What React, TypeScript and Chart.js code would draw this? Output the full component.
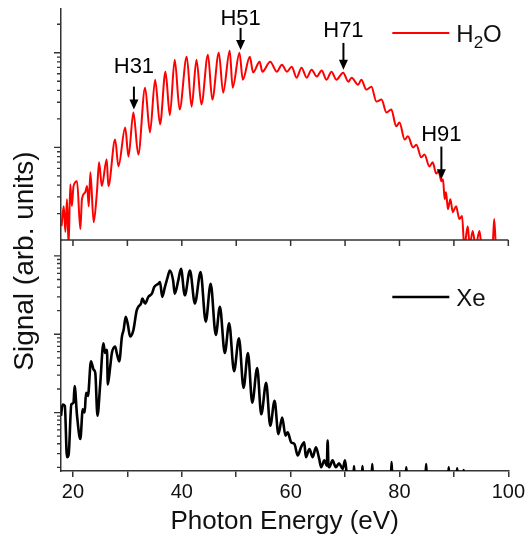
import React, { useEffect, useRef } from 'react';
import { Chart, registerables } from 'chart.js';

Chart.register(...registerables);

// ---------- axis ranges and ticks ----------
const X_MIN = 17.8;
const X_MAX = 100;
const X_TICKS = [20, 30, 40, 50, 60, 70, 80, 90, 100];
const X_LABELED = [20, 40, 60, 80, 100];
const H2O_RANGE = [1.05, 290];
const XE_RANGE = [1.79, 1594];

// ---------- series: [photon energy (eV), signal (arb. units)] ----------
const H2O_SPECTRUM: [number, number][] = [
  [17.9, 1.47], [18.3, 2.39], [18.6, 1.28], [18.9, 2.84], [19.2, 0.9], [19.5, 4.08],
  [19.8, 2.39], [20.1, 3.9], [20.75, 4.39], [21.35, 1.37], [21.65, 2.84], [22.25, 3.36],
  [22.6, 3.9], [22.9, 2.39], [23.2, 5.46], [23.8, 1.62], [24.4, 3.36], [24.8, 6.95],
  [25.3, 3.9], [26.2, 7.5], [26.5, 3.9], [27.75, 12.1], [28.35, 6.3], [29.6, 16.2],
  [30.2, 8.0], [31.1, 23.4], [32.0, 8.4], [33.25, 42.8], [34.15, 14.4], [35.1, 52],
  [36.0, 17.5], [37.0, 63.1], [37.8, 21.9], [38.7, 84.4], [39.6, 25.1], [40.9, 90.7],
  [41.8, 26.9], [42.7, 84.4], [43.6, 28.4], [44.8, 95.3], [45.6, 32], [46.8, 100],
  [47.6, 37.9], [48.8, 105], [49.35, 42.8], [50.6, 100], [51.2, 52], [52.5, 90.7],
  [53.1, 62], [54.3, 80.4], [54.8, 63.1], [56.25, 80.4], [57.45, 63.1], [58.4, 74.8],
  [59.3, 63.1], [60.2, 71.2], [61.1, 54.6], [62.0, 69.5], [62.95, 54.6], [63.85, 66.2],
  [64.8, 56], [65.7, 65], [66.6, 52], [67.5, 63.1], [68.4, 52], [69.65, 61.6],
  [70.6, 49.5], [71.2, 54.6], [72.4, 46], [73.0, 52], [73.9, 40.8], [74.85, 43.8],
  [75.75, 30.5], [76.7, 32], [77.6, 23.4], [78.5, 25.1], [79.4, 16.7], [80.0, 18.3],
  [80.95, 12.1], [81.55, 13.1], [82.5, 10], [83.1, 10.7], [84.0, 7.85], [84.6, 8.4],
  [85.5, 6.3], [86.1, 6.95], [86.75, 5.3], [87.2, 5.6], [87.7, 4.4], [88.0, 4.6],
  [88.3, 2.84], [88.55, 3.36], [88.9, 2.22], [89.35, 2.84], [89.8, 2.07], [90.4, 2.39],
  [91.0, 1.75], [91.5, 1.88], [91.9, 0.9], [92.55, 1.47], [92.9, 0.9], [93.45, 1.31],
  [94.0, 0.9], [94.7, 1.31], [95.1, 0.9], [97.1, 0.9], [97.4, 1.75], [97.7, 0.9],
];

const XE_SPECTRUM: [number, number][] = [
  [17.8, 9.1], [18.1, 12.7], [18.5, 12.2], [18.9, 2.69], [19.2, 2.9], [19.7, 12.7],
  [20.1, 13.4], [20.3, 21.8], [20.75, 9.1], [21.35, 4.59], [21.8, 11.0], [22.15, 10],
  [22.4, 17.9], [22.75, 16.3], [23.3, 45.1], [23.8, 35.3], [24.1, 32.1], [24.5, 9.1],
  [25.0, 22.8], [25.6, 76.9], [25.9, 57.5], [26.25, 63.3], [26.4, 22.8], [26.85, 39],
  [27.15, 57.5], [27.75, 69.8], [28.05, 57.5], [28.5, 45.1], [29.0, 93.5], [29.3, 113],
  [29.7, 167], [30.1, 131], [30.5, 93.5], [31.1, 113], [31.7, 200], [32.0, 224],
  [32.5, 247], [32.75, 286], [33.25, 247], [33.85, 300], [34.5, 330], [34.95, 402],
  [35.7, 442], [36.0, 464], [36.4, 300], [36.9, 402], [37.4, 537], [37.8, 652],
  [38.4, 487], [38.7, 330], [39.35, 487], [39.85, 684], [40.55, 314], [41.5, 652],
  [42.4, 247], [43.45, 622], [44.4, 145], [45.3, 442], [46.25, 98], [47.0, 224],
  [47.9, 57.5], [48.7, 138], [49.6, 33.7], [50.5, 89], [51.35, 20.7], [52.15, 57.5],
  [52.95, 13.4], [53.85, 37.1], [54.6, 9.5], [55.5, 24], [56.25, 6.8], [57.05, 14.1],
  [57.75, 5.31], [58.45, 8.65], [59.05, 5.07], [59.45, 5.58], [60.1, 4.17], [60.7, 3.97],
  [61.3, 2.83], [61.9, 3.6], [62.5, 4.17], [62.8, 2.69], [63.45, 3.43], [64.05, 2.69],
  [64.65, 3.6], [65.25, 2.56], [65.6, 2.01], [66.2, 2.45], [66.65, 2.1], [66.8, 4.38],
  [66.95, 2.1], [67.1, 2.01], [67.7, 2.45], [68.3, 2.01], [68.9, 2.25], [69.55, 1.91],
  [70.0, 2.45], [70.45, 1.4], [71.5, 1.4], [71.65, 2.07], [71.8, 1.4], [73.05, 1.4],
  [73.2, 2.07], [73.35, 1.4], [74.85, 1.4], [75.0, 2.2], [75.15, 1.4], [78.4, 1.4],
  [78.55, 2.33], [78.7, 1.4], [81.1, 1.4], [81.25, 2.0], [81.4, 1.4], [84.75, 1.4],
  [84.9, 2.2], [85.05, 1.4], [88.9, 1.4], [89.05, 2.0], [89.2, 1.4], [90.45, 1.4],
  [90.6, 1.95], [90.75, 1.4], [91.65, 1.4], [91.8, 1.85], [91.95, 1.4],
];

// ---------- harmonic annotations (top panel) ----------
const HARMONIC_LABELS = ['H31', 'H51', 'H71', 'H91'];
const HARMONIC_ENERGY = [31.2, 50.8, 69.7, 87.7];
const HARMONIC_LABEL_SIGNAL = [61.6, 197, 147, 11.6];
const HARMONIC_ARROW_TAIL = [43.9, 183, 127, 10.2];
const HARMONIC_ARROW_TIP = [25.1, 107, 66.2, 4.6];

const SERIES_NAMES = ['H2O', 'Xe'];
const Y_TITLE = 'Signal (arb. units)';
const X_TITLE = 'Photon Energy (eV)';

const FONT = '"Liberation Sans", Arial, Helvetica, sans-serif';
const AXIS_COLOR = '#333333';
const TEXT_COLOR = '#111111';
const RED = '#ff0000';

export default function App() {
  const canvasRef = useRef<HTMLCanvasElement>(null);

  useEffect(() => {
    const canvas = canvasRef.current;
    if (!canvas) return;

    const panelClip = {
      id: 'panelClip',
      beforeDatasetDraw(chart: any, args: any) {
        const ys = chart.scales[args.meta.yAxisID];
        const ca = chart.chartArea;
        const ctx = chart.ctx;
        ctx.save();
        ctx.beginPath();
        ctx.rect(ca.left, ys.top, ca.right - ca.left, ys.bottom - ys.top);
        ctx.clip();
      },
      afterDatasetDraw(chart: any) {
        chart.ctx.restore();
      },
    };

    const decorations = {
      id: 'decorations',
      afterDraw(chart: any) {
        const ctx = chart.ctx as CanvasRenderingContext2D;
        const ca = chart.chartArea;
        const xs = chart.scales.x;
        const yTop = chart.scales.yH2O;
        const yBot = chart.scales.yXe;
        ctx.save();

        // log minor/major ticks on the left axes
        ctx.strokeStyle = AXIS_COLOR;
        ctx.lineWidth = 1.3;
        ctx.beginPath();
        for (const s of [yTop, yBot]) {
          const lo = Math.floor(Math.log10(s.min));
          const hi = Math.ceil(Math.log10(s.max));
          for (let d = lo; d <= hi; d++) {
            for (let m = 1; m <= 9; m++) {
              const v = m * Math.pow(10, d);
              if (v < s.min || v > s.max) continue;
              const y = s.getPixelForValue(v);
              const len = m === 1 ? 7 : 4;
              ctx.moveTo(ca.left - len, y);
              ctx.lineTo(ca.left, y);
            }
          }
        }
        ctx.stroke();

        // separator: top panel's energy axis
        const sepY = yTop.bottom;
        ctx.lineWidth = 1.5;
        ctx.beginPath();
        ctx.moveTo(ca.left, sepY);
        ctx.lineTo(ca.right, sepY);
        for (const t of X_TICKS) {
          const x = xs.getPixelForValue(t);
          ctx.moveTo(x, sepY);
          ctx.lineTo(x, sepY + 6);
        }
        ctx.stroke();

        // harmonic arrows + labels
        ctx.fillStyle = '#000';
        ctx.strokeStyle = '#000';
        ctx.font = `22px ${FONT}`;
        ctx.textAlign = 'center';
        ctx.textBaseline = 'alphabetic';
        HARMONIC_LABELS.forEach((lab, i) => {
          const x = xs.getPixelForValue(HARMONIC_ENERGY[i]);
          const yl = yTop.getPixelForValue(HARMONIC_LABEL_SIGNAL[i]);
          const yt = yTop.getPixelForValue(HARMONIC_ARROW_TAIL[i]);
          const yp = yTop.getPixelForValue(HARMONIC_ARROW_TIP[i]);
          ctx.fillText(lab, x, yl);
          ctx.lineWidth = 2;
          ctx.beginPath();
          ctx.moveTo(x, yt);
          ctx.lineTo(x, yp - 9);
          ctx.stroke();
          ctx.beginPath();
          ctx.moveTo(x - 4.5, yp - 10);
          ctx.lineTo(x + 4.5, yp - 10);
          ctx.lineTo(x, yp);
          ctx.closePath();
          ctx.fill();
        });

        // legends
        const lx0 = ca.right - 116;
        const lx1 = ca.right - 59;
        const tx = ca.right - 52;
        // H2O
        const ly1 = yTop.top + 24;
        ctx.strokeStyle = RED;
        ctx.lineWidth = 2;
        ctx.beginPath();
        ctx.moveTo(lx0, ly1);
        ctx.lineTo(lx1, ly1);
        ctx.stroke();
        ctx.fillStyle = TEXT_COLOR;
        ctx.textAlign = 'left';
        ctx.font = `24px ${FONT}`;
        const base1 = ly1 + 8.5;
        ctx.fillText('H', tx, base1);
        const w = ctx.measureText('H').width;
        ctx.font = `17px ${FONT}`;
        ctx.fillText('2', tx + w, base1 + 6);
        const w2 = ctx.measureText('2').width;
        ctx.font = `24px ${FONT}`;
        ctx.fillText('O', tx + w + w2, base1);
        // Xe
        const ly2 = yBot.top + 57;
        ctx.strokeStyle = '#000';
        ctx.lineWidth = 2.5;
        ctx.beginPath();
        ctx.moveTo(lx0, ly2);
        ctx.lineTo(lx1, ly2);
        ctx.stroke();
        ctx.fillText(SERIES_NAMES[1], tx, ly2 + 8.5);

        // y title
        ctx.save();
        ctx.translate(ca.left - 36, (ca.top + ca.bottom) / 2 + 21);
        ctx.rotate(-Math.PI / 2);
        ctx.textAlign = 'center';
        ctx.textBaseline = 'middle';
        ctx.font = `28px ${FONT}`;
        ctx.fillStyle = TEXT_COLOR;
        ctx.fillText(Y_TITLE, 0, 0);
        ctx.restore();

        ctx.restore();
      },
    };

    const logAxis = (range: number[]) => ({
      type: 'logarithmic' as const,
      position: 'left' as const,
      stack: 'panels',
      stackWeight: 1,
      min: range[0],
      max: range[1],
      ticks: { display: false },
      grid: { display: false, drawTicks: false },
      border: { display: true, color: AXIS_COLOR, width: 1.5 },
    });

    const chart = new Chart(canvas, {
      type: 'line',
      data: {
        datasets: [
          {
            label: SERIES_NAMES[0],
            data: H2O_SPECTRUM.map(([x, y]) => ({ x, y })),
            yAxisID: 'yH2O',
            borderColor: RED,
            borderWidth: 2,
            pointRadius: 0,
            cubicInterpolationMode: 'monotone',
            fill: false,
          },
          {
            label: SERIES_NAMES[1],
            data: XE_SPECTRUM.map(([x, y]) => ({ x, y })),
            yAxisID: 'yXe',
            borderColor: '#000000',
            borderWidth: 2.6,
            pointRadius: 0,
            cubicInterpolationMode: 'monotone',
            fill: false,
          },
        ],
      },
      options: {
        responsive: false,
        animation: false,
        devicePixelRatio: 1,
        layout: { padding: { left: 61, right: 18, top: 9, bottom: 0 } },
        plugins: { legend: { display: false }, tooltip: { enabled: false } },
        scales: {
          x: {
            type: 'linear',
            min: X_MIN,
            max: X_MAX,
            afterBuildTicks: (s: any) => {
              s.ticks = X_TICKS.map((v) => ({ value: v }));
            },
            ticks: {
              callback: (v: any) => (X_LABELED.includes(Number(v)) ? String(v) : ''),
              font: { family: FONT, size: 20 },
              color: TEXT_COLOR,
              padding: 3,
              maxRotation: 0,
              autoSkip: false,
            },
            grid: {
              display: true,
              drawOnChartArea: false,
              drawTicks: true,
              tickLength: 6,
              color: AXIS_COLOR,
              lineWidth: 1.5,
            },
            border: { display: true, color: AXIS_COLOR, width: 1.5 },
            title: {
              display: true,
              text: X_TITLE,
              font: { family: FONT, size: 26, lineHeight: 1.15 },
              color: TEXT_COLOR,
              padding: { top: 0, bottom: 0 },
            },
          },
          yXe: logAxis(XE_RANGE),
          yH2O: logAxis(H2O_RANGE),
        } as any,
      },
      plugins: [panelClip, decorations],
    });

    return () => chart.destroy();
  }, []);

  return (
    <div style={{ position: 'absolute', left: 0, top: 0, width: 528, height: 537, background: '#fff' }}>
      <canvas ref={canvasRef} width={528} height={537} style={{ display: 'block' }} />
    </div>
  );
}
